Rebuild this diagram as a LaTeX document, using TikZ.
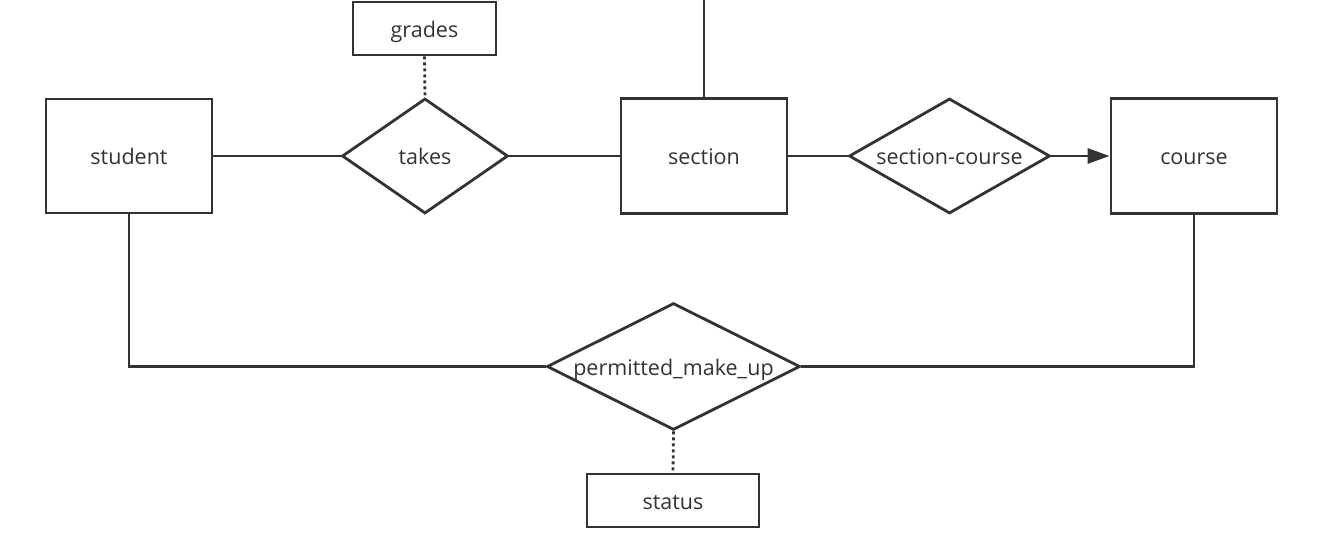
\documentclass[tikz,border=0pt]{standalone}
\usepackage{fontspec}
\setmainfont{Open Sans}
\usetikzlibrary{shapes.geometric,arrows.meta}
\definecolor{ink}{HTML}{333333}
\tikzset{
  lbl/.style={text=ink, font=\fontsize{21.5}{24}\selectfont, text height=18pt, text depth=0pt},
  ent/.style={draw=ink, line width=2.8pt, rectangle, inner sep=0pt, lbl},
  rel/.style={draw=ink, line width=2.8pt, diamond, inner sep=0pt, lbl},
  conn/.style={draw=ink, line width=2.8pt},
  attr/.style={draw=ink, line width=2.8pt, dash pattern=on 3pt off 3pt},
}
\newcommand{\zb}[1]{\makebox[0pt]{#1}}
\begin{document}
\begin{tikzpicture}[x=1pt,y=-1pt]
\useasboundingbox (0,0) rectangle (1327,534);
\node[ent, minimum width=166, minimum height=114] (student) at (129,156) {student};
\node[ent, minimum width=143, minimum height=53] (grades) at (424.5,28.5) {grades};
\node[ent, minimum width=166, minimum height=115] (section) at (704,156) {section};
\node[ent, minimum width=166, minimum height=115] (course) at (1194,156) {course};
\node[ent, minimum width=172, minimum height=53] (status) at (673,500.5) {status};
\node[rel, minimum width=166, minimum height=115] (takes) at (425,156) {\zb{takes}};
\node[rel, minimum width=201, minimum height=115] (sc) at (949.5,156) {\zb{section-course}};
\node[rel, minimum width=253, minimum height=127] (pm) at (673.5,366.5) {\zb{permitted\_make\_up}};
\coordinate (top) at (704,0);
\draw[conn] (student.east) -- (takes.west);
\draw[conn] (takes.east) -- (section.west);
\draw[conn] (section.east) -- (sc.west);
\draw[conn, -{Triangle[length=22pt,width=15pt]}] (sc.east) -- (course.west);
\draw[conn] (section.north) -- (top);
\draw[conn] (student.south) |- (pm.west);
\draw[conn] (course.south) |- (pm.east);
\draw[attr] (grades.south) -- (takes.north);
\draw[attr] (pm.south) -- (status.north);
\end{tikzpicture}
\end{document}
